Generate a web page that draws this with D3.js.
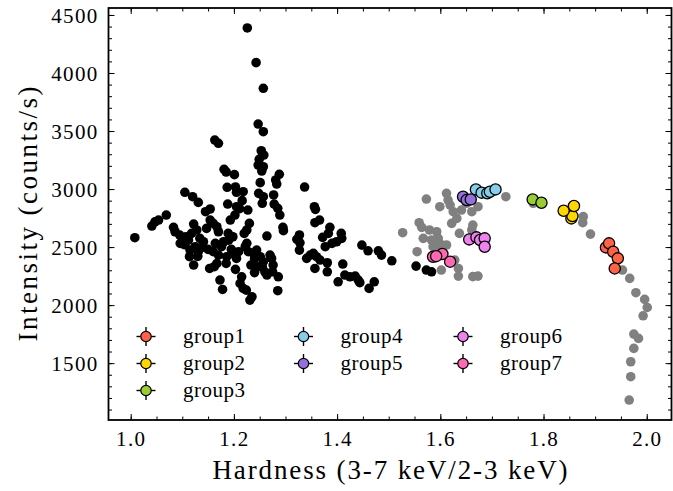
<!DOCTYPE html>
<html>
<head>
<meta charset="utf-8">
<script src="https://cdn.jsdelivr.net/npm/d3@7"></script>
<style>
  body { margin: 0; background: #fff; }
  text { font-family: "Liberation Serif", "DejaVu Serif", serif; fill: #000; }
</style>
</head>
<body>
<svg id="chart"></svg>
<script>
// hardness / intensity pairs
const blackPoints = [
  [1.226,4388],[1.243,4089],[1.257,3868],[1.247,3560],[1.257,3494],[1.163,3422],[1.170,3394],
  [1.253,3330],[1.258,3293],[1.249,3256],[1.247,3207],[1.257,3192],[1.254,3155],[1.181,3170],
  [1.185,3147],[1.201,3124],[1.288,3127],[1.281,3078],[1.283,3043],[1.251,3055],[1.337,3017],
  [1.187,3015],[1.203,3018],[1.205,2972],[1.218,2977],[1.105,2972],[1.120,2934],[1.131,2885],
  [1.248,2963],[1.257,2934],[1.277,2949],[1.216,2900],[1.188,2871],[1.255,2877],[1.278,2871],
  [1.285,2834],[1.356,2848],[1.358,2825],[1.211,2831],[1.227,2819],[1.154,2828],[1.145,2805],
  [1.069,2776],
  [1.008,2581],[1.041,2681],[1.047,2718],[1.054,2733],[1.083,2670],[1.086,2632],[1.095,2603],
  [1.096,2532],[1.107,2589],[1.122,2698],[1.112,2560],[1.118,2618],[1.128,2647],[1.134,2575],
  [1.125,2503],[1.115,2474],[1.114,2417],[1.122,2345],[1.131,2460],[1.141,2546],[1.147,2661],
  [1.154,2733],[1.160,2704],[1.167,2675],[1.170,2632],[1.164,2532],[1.160,2460],[1.170,2431],
  [1.180,2546],[1.176,2503],[1.186,2417],[1.185,2359],[1.167,2359],[1.153,2316],[1.162,2331],
  [1.173,2216],[1.178,2135],[1.189,2618],[1.193,2733],[1.198,2589],[1.202,2776],[1.205,2848],
  [1.209,2460],[1.205,2402],[1.203,2308],[1.215,2244],[1.212,2187],[1.218,2144],[1.224,2129],
  [1.220,2618],[1.225,2647],[1.230,2704],[1.233,2345],[1.235,2072],[1.231,2043],[1.228,2460],
  [1.225,2532],[1.222,2503],[1.238,2445],[1.244,2474],[1.251,2417],[1.247,2330],[1.257,2374],
  [1.260,2287],[1.264,2259],[1.270,2431],[1.273,2402],[1.276,2345],[1.275,2287],[1.286,2244],
  [1.285,2124],[1.264,2595],[1.289,2776],
  [1.140,2500],[1.150,2480],[1.195,2480],[1.240,2400],[1.190,2560],[1.105,2520],[1.130,2420],
  [1.200,2440],[1.255,2330],[1.240,2280],
  [1.295,2670],[1.296,2641],[1.357,2710],[1.366,2733],[1.327,2604],[1.322,2567],[1.328,2537],
  [1.327,2474],[1.386,2670],[1.383,2618],[1.372,2584],[1.377,2503],[1.390,2532],[1.399,2546],
  [1.408,2618],[1.409,2575],[1.341,2403],[1.348,2431],[1.354,2446],[1.360,2417],[1.367,2388],
  [1.357,2316],[1.381,2365],[1.381,2287],[1.411,2354],[1.402,2201],[1.415,2259],[1.425,2244],
  [1.435,2250],[1.441,2216],[1.444,2193],[1.448,2517],[1.460,2468],[1.472,2201],[1.462,2144],
  [1.480,2468],[1.486,2431],[1.506,2382],[1.553,2336],[1.573,2302],[1.583,2287]
];

const grayPoints = [
  [1.527,2624],[1.573,2914],[1.559,2710],[1.564,2670],[1.555,2460],[1.567,2575],[1.579,2647],
  [1.583,2561],[1.593,2632],[1.596,2575],[1.599,2532],[1.586,2503],[1.602,2474],[1.612,2518],
  [1.602,2302],[1.612,2963],[1.615,2905],[1.619,2862],[1.599,2848],[1.625,2805],[1.632,2747],
  [1.622,2704],[1.635,2316],[1.635,2250],[1.628,2388],[1.637,2618],[1.641,2819],[1.651,2877],
  [1.661,2805],[1.673,2848],[1.663,2690],[1.661,2647],[1.663,2245],[1.673,2250],[1.727,2934],
  [1.780,2877],[1.877,2762],[1.876,2710],[1.891,2612],[1.953,2302],[1.967,2230],[1.979,2107],
  [1.996,2049],[2.001,1980],[1.993,1908],[1.975,1750],[1.984,1713],[1.975,1627],[1.969,1512],
  [1.969,1383],[1.966,1182]
];

const groupNames = ['group1','group2','group3','group4','group5','group6','group7'];
const groupColors = ['#ff6347','#ffd700','#9acd32','#87ceeb','#9370db','#ee82ee','#ff69b4'];
const groupPoints = [
  [[1.921,2497],[1.927,2532],[1.935,2460],[1.944,2403],[1.938,2316]],
  [[1.854,2747],[1.856,2767],[1.839,2813],[1.859,2854]],
  [[1.779,2911],[1.796,2882]],
  [[1.669,2997],[1.680,2969],[1.691,2963],[1.696,2977],[1.707,2997]],
  [[1.644,2934],[1.651,2905],[1.659,2911]],
  [[1.656,2566],[1.670,2584],[1.677,2561],[1.686,2575],[1.686,2503]],
  [[1.586,2417],[1.604,2440],[1.619,2374],[1.592,2422]]
];

const xTicks = [1.0, 1.2, 1.4, 1.6, 1.8, 2.0];
const yTicks = [1500, 2000, 2500, 3000, 3500, 4000, 4500];

const W = 673, H = 491;
const m = { left: 108.5, right: 1.5, top: 8, bottom: 71 };

const svg = d3.select('#chart').attr('width', W).attr('height', H);

const x = d3.scaleLinear().domain([0.957, 2.048]).range([m.left, W - m.right]);
const y = d3.scaleLinear().domain([1010, 4560]).range([H - m.bottom, m.top]);

const xMinor = d3.range(1.0, 2.001, 0.05);
const yMinor = d3.range(1100, 4501, 100);

// axes: ticks inward on all four sides
const major = 6, minor = 3.5;
const addAxis = (axisFn, scale, pos, ticks, len, fmt) => {
  const g = svg.append('g')
    .attr('transform', pos)
    .call(axisFn(scale).tickValues(ticks).tickSizeInner(-len).tickSizeOuter(0).tickFormat(fmt));
  g.select('.domain').remove();
  g.selectAll('.tick line').attr('stroke', '#000').attr('stroke-width', 1);
  return g;
};
const none = () => '';
const bottomY = H - m.bottom, rightX = W - m.right;
addAxis(d3.axisBottom, x, `translate(0,${bottomY})`, xMinor, minor, none);
addAxis(d3.axisTop, x, `translate(0,${m.top})`, xMinor, minor, none);
addAxis(d3.axisLeft, y, `translate(${m.left},0)`, yMinor, minor, none);
addAxis(d3.axisRight, y, `translate(${rightX},0)`, yMinor, minor, none);
addAxis(d3.axisTop, x, `translate(0,${m.top})`, xTicks, major, none);
addAxis(d3.axisRight, y, `translate(${rightX},0)`, yTicks, major, none);

const xb = addAxis(d3.axisBottom, x, `translate(0,${bottomY})`, xTicks, major, d3.format('.1f'));
xb.selectAll('.tick text').attr('y', 11).attr('dy', '0.71em')
  .style('font-size', '21px').style('letter-spacing', '1.3px').attr('fill', '#000');
const yl = addAxis(d3.axisLeft, y, `translate(${m.left},0)`, yTicks, major, d3.format('d'));
yl.selectAll('.tick text').attr('x', -10).attr('dy', '0.34em')
  .style('font-size', '21px').style('letter-spacing', '1.3px').attr('fill', '#000');

// points
const plot = svg.append('g');
plot.selectAll('circle.gray')
  .data(grayPoints)
  .join('circle')
  .attr('class', 'gray')
  .attr('cx', (d) => x(d[0]))
  .attr('cy', (d) => y(d[1]))
  .attr('r', 4.8)
  .attr('fill', '#808080');

plot.selectAll('circle.black')
  .data(blackPoints)
  .join('circle')
  .attr('class', 'black')
  .attr('cx', (d) => x(d[0]))
  .attr('cy', (d) => y(d[1]))
  .attr('r', 4.8)
  .attr('fill', '#000');

groupPoints.forEach((pts, gi) => {
  plot.append('g').selectAll('circle')
    .data(pts)
    .join('circle')
    .attr('cx', (d) => x(d[0]))
    .attr('cy', (d) => y(d[1]))
    .attr('r', 5.6)
    .attr('fill', groupColors[gi])
    .attr('stroke', '#000')
    .attr('stroke-width', 1.3);
});

// frame
svg.append('rect')
  .attr('x', m.left).attr('y', m.top)
  .attr('width', W - m.left - m.right).attr('height', H - m.top - m.bottom)
  .attr('fill', 'none').attr('stroke', '#000').attr('stroke-width', 1.8);

// legend, 3 columns
const legCols = [[0, 1, 2], [3, 4], [5, 6]];
const colX = [146, 303.5, 463];
const rowY = [336.5, 363.5, 390.5];
const legend = svg.append('g');
legCols.forEach((col, ci) => {
  col.forEach((gi, ri) => {
    const cx = colX[ci], cy = rowY[ri];
    const item = legend.append('g');
    item.append('line').attr('x1', cx - 9.5).attr('x2', cx + 9.5).attr('y1', cy).attr('y2', cy)
      .attr('stroke', '#000').attr('stroke-width', 1.4);
    item.append('line').attr('x1', cx).attr('x2', cx).attr('y1', cy - 9.5).attr('y2', cy + 9.5)
      .attr('stroke', '#000').attr('stroke-width', 1.4);
    item.append('circle').attr('cx', cx).attr('cy', cy).attr('r', 5.2)
      .attr('fill', groupColors[gi]).attr('stroke', '#000').attr('stroke-width', 1.2);
    item.append('text').attr('x', cx + 37).attr('y', cy).attr('dy', '0.3em')
      .style('font-size', '21px')
      .attr('textLength', 62).attr('lengthAdjust', 'spacing')
      .text(groupNames[gi]);
  });
});

// axis titles
svg.append('text')
  .attr('x', (m.left + W - m.right) / 2).attr('y', 479)
  .attr('text-anchor', 'middle').style('font-size', '27px')
  .attr('textLength', 355).attr('lengthAdjust', 'spacing')
  .text('Hardness (3-7 keV/2-3 keV)');
svg.append('text')
  .attr('transform', `translate(37,${(m.top + H - m.bottom) / 2}) rotate(-90)`)
  .attr('text-anchor', 'middle').style('font-size', '27px')
  .attr('textLength', 255).attr('lengthAdjust', 'spacing')
  .text('Intensity (counts/s)');
</script>
</body>
</html>
